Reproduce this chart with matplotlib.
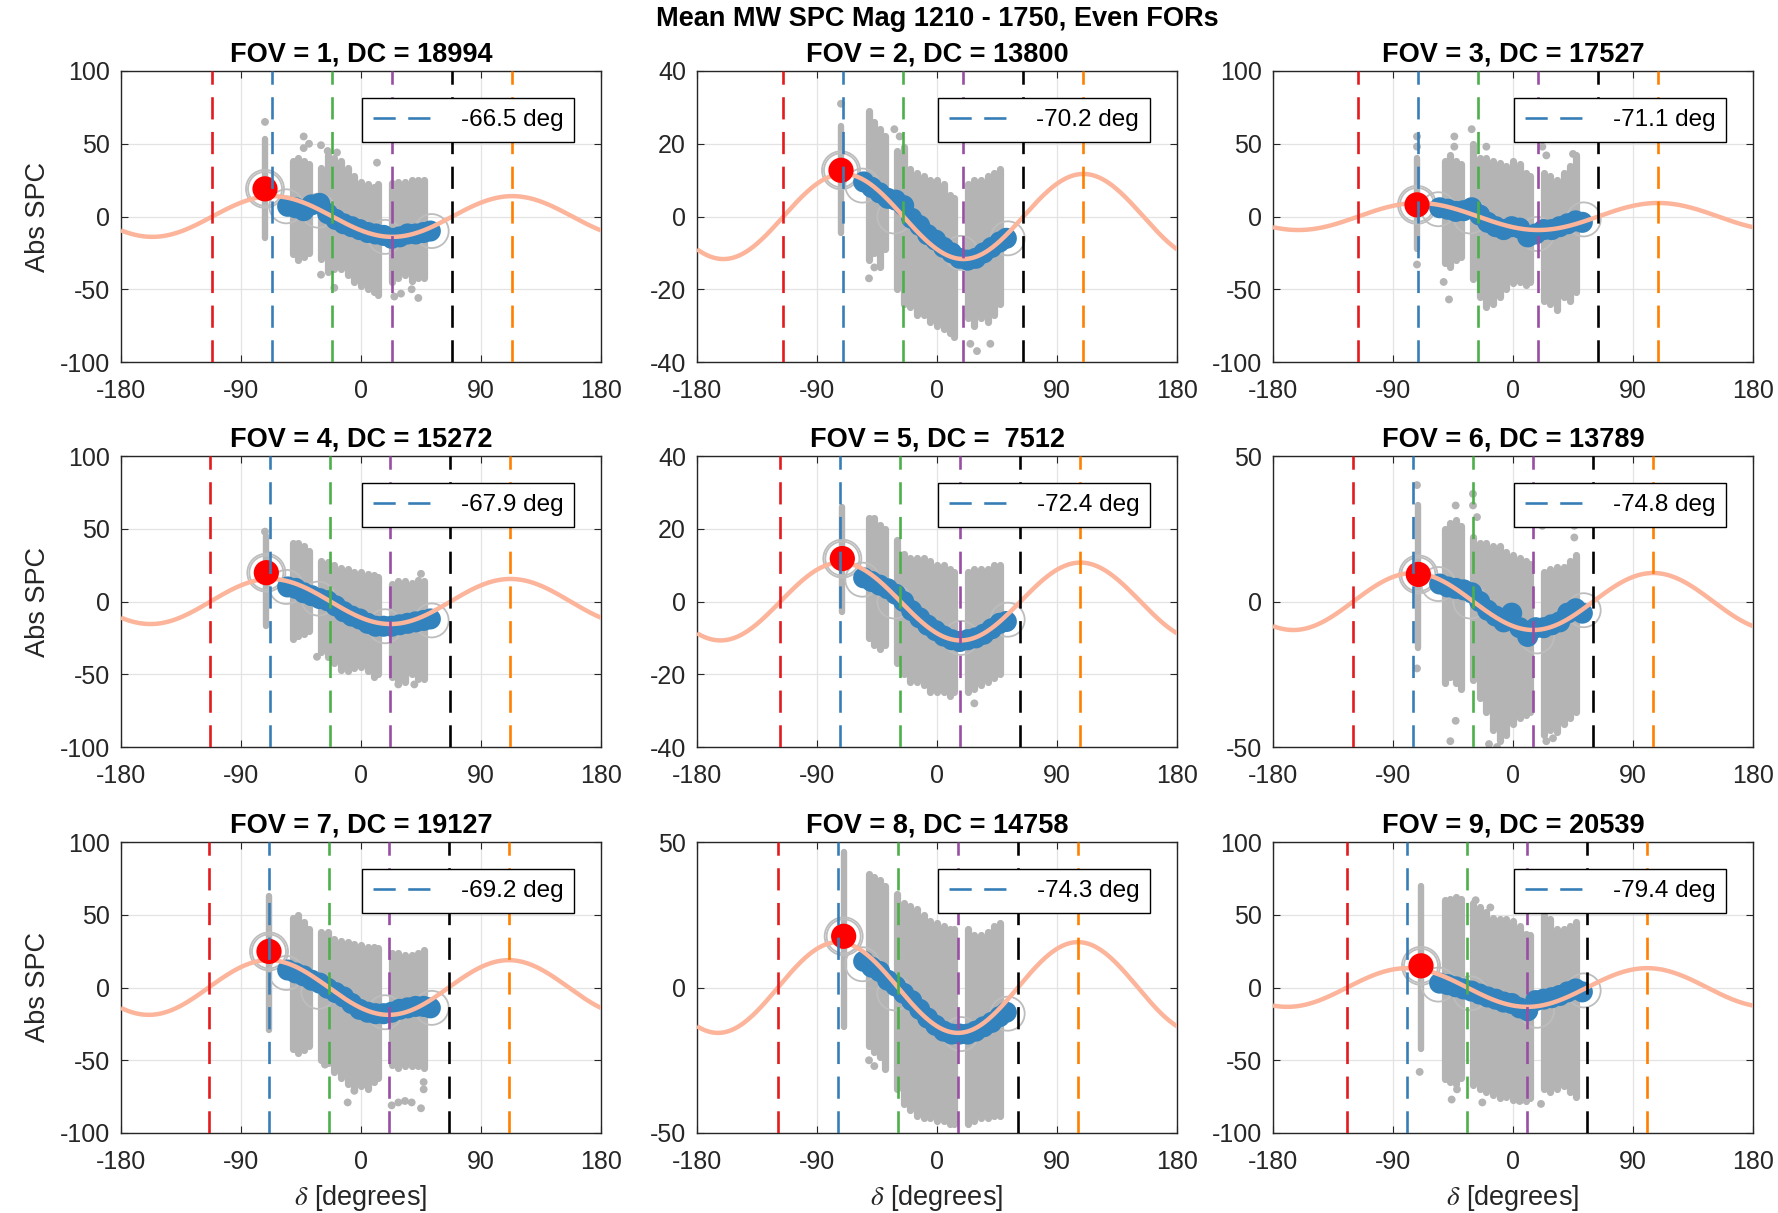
import numpy as np
import matplotlib
matplotlib.use('Agg')
import matplotlib.pyplot as plt

plt.rcParams['font.family'] = ['Liberation Sans', 'DejaVu Sans']
plt.rcParams['mathtext.fontset'] = 'stix'
plt.rcParams['lines.scale_dashes'] = False
plt.rcParams['axes.unicode_minus'] = False

# ---------------- data ----------------
suptitle_text = 'Mean MW SPC Mag 1210 - 1750, Even FORs'
fov = [1, 2, 3, 4, 5, 6, 7, 8, 9]
dc = [18994, 13800, 17527, 15272, 7512, 13789, 19127, 14758, 20539]
phase = [-66.5, -70.2, -71.1, -67.9, -72.4, -74.8, -69.2, -74.3, -79.4]   # legend values (deg)
amp = [14.0, 11.7, 9.3, 15.5, 10.7, 9.8, 18.8, 15.6, 13.3]                 # fitted sinusoid amplitude
ylim = [100, 40, 100, 100, 40, 50, 100, 50, 100]
yticks = {100: [-100, -50, 0, 50, 100], 40: [-40, -20, 0, 20, 40], 50: [-50, 0, 50]}
xticks = [-180, -90, 0, 90, 180]

line_offsets = [-45, 0, 45, 90, 135, 180]
line_colors = ['#E41A1C', '#377EB8', '#4DAF4A', '#984EA3', '#000000', '#FF7F00']

# peak point (red)
red_x = [-72, -72, -72, -71, -71, -71, -69, -70, -69]
red_y = [19.0, 12.7, 8.0, 19.8, 11.8, 9.3, 24.8, 17.6, 14.9]
# gray column at the peak position
red_col_lo = [-15, -4.5, -22, -17, -3, -16, -29, -13.5, -42]
red_col_hi = [53, 25, 40, 45, 26, 33, 63, 46.5, 70]

# gray scatter columns (x positions and vertical extent per panel)
col_x = [-51, -47, -43, -39,
         -30, -25, -20, -15, -10, -5, 0, 5, 10, 13,
         23, 28, 33, 38, 43, 47]
col_hi = [
    [38, 40, 38, 36, 33, 42, 40, 38, 33, 28, 24, 22, 20, 22, 23, 24, 24, 25, 25, 25],
    [29, 26, 24, 22, 18, 19, 13, 12, 11, 10, 10, 9, 6, 5, 9, 10, 10, 11, 12, 13],
    [38, 42, 38, 36, 50, 40, 40, 38, 37, 35, 38, 36, 30, 28, 30, 28, 25, 30, 35, 42],
    [40, 40, 38, 35, 28, 27, 25, 23, 22, 20, 20, 19, 18, 17, 12, 14, 14, 13, 15, 14],
    [23, 23, 21, 20, 17, 13, 12, 12, 12, 11, 10, 10, 9, 8, 8, 9, 9, 9, 10, 10],
    [25, 27, 28, 26, 22, 20, 20, 19, 19, 17, 16, 15, 14, 13, 10, 11, 12, 12, 14, 16],
    [48, 50, 45, 40, 38, 38, 33, 32, 31, 30, 29, 28, 28, 27, 24, 24, 22, 22, 24, 26],
    [39, 38, 37, 35, 32, 29, 28, 27, 25, 23, 22, 21, 20, 20, 20, 18, 18, 19, 21, 22],
    [60, 61, 62, 61, 58, 55, 52, 48, 47, 47, 46, 42, 37, 36, 50, 47, 40, 40, 42, 45],
]
col_lo = [
    [-26, -30, -28, -25, -29, -38, -36, -36, -40, -45, -48, -50, -52, -54, -45, -42, -40, -44, -42, -42],
    [-12, -10, -14, -9, -20, -24, -25, -27, -27, -29, -30, -31, -32, -33, -28, -30, -28, -29, -27, -24],
    [-32, -35, -30, -28, -43, -55, -62, -60, -55, -50, -46, -45, -47, -45, -58, -60, -64, -55, -58, -52],
    [-26, -24, -22, -20, -35, -38, -42, -47, -48, -46, -45, -48, -52, -50, -52, -56, -55, -50, -53, -53],
    [-10, -12, -13, -12, -17, -20, -22, -22, -23, -25, -25, -25, -26, -25, -25, -24, -23, -22, -21, -20],
    [-28, -26, -28, -30, -27, -33, -38, -44, -48, -46, -42, -40, -39, -38, -46, -44, -45, -42, -40, -38],
    [-42, -45, -43, -40, -50, -52, -58, -62, -66, -70, -68, -70, -65, -62, -53, -55, -54, -54, -54, -55],
    [-20, -22, -24, -28, -35, -40, -42, -44, -45, -45, -46, -46, -47, -47, -47, -46, -45, -45, -44, -44],
    [-63, -65, -66, -62, -67, -70, -72, -74, -76, -75, -77, -77, -78, -76, -70, -72, -70, -68, -72, -75],
]
# isolated gray points
out_x = [
    [-72, -43, -43, -39, -30, -25, -18, 12, -20, -30, 25, 30, 43, 38],
    [-72, -51, -47, -32, -28, 25, 30, 40],
    [-72, -72, -72, -44, -44, -52, -48, -31, -20, 22, 25, 45],
    [-72, -33, 45, 28, 40],
    [28],
    [-72, -72, -43, -47, -43, -30, -30, -27, -18, -12, 22, 46, 46, 25, 30],
    [-27, -10, -5, 0, 5, 23, 28, 33, 38, 45, 47, 47],
    [-51, -47],
    [-70, -46, -42, -23, 21, -28, -17, 5],
]
out_y = [
    [65, 55, 47, 50, 49, 45, 44, 37, -49, -40, -55, -53, -56, -50],
    [31, -17, -14, 24, 22, -35, -37, -35],
    [55, 48, -33, 55, 48, -45, -57, 60, 48, 48, 42, 43],
    [48, -38, 19, -57, -57],
    [-28],
    [40, -23, 33, -48, -41, 37, 33, 29, -49, -50, 26, 26, 22, -48, -47],
    [-53, -79, -71, -65, -67, -81, -79, -78, -79, -83, -65, -70],
    [-25, -27],
    [-58, -77, -70, -79, -80, 60, 55, -78],
]

# binned means (blue)
blue_x = [-55, -49, -43, -37, -31, -25, -19, -13, -7, -1, 5, 11, 17, 23, 29, 35, 41, 47, 52]
blue_y = [
    [7, 6, 4, 8, 9, 2, -2, -5, -7, -9, -11, -12, -13, -15, -14, -12, -12, -11, -10],
    [9.5, 8, 6.5, 5, 4.5, 3, -0.5, -2.5, -5, -6.5, -8.5, -10, -11.5, -12, -11.5, -10, -8.5, -7, -6],
    [6, 5, 3.5, 4, 6, 1, -4, -7, -9, -7, -8, -14, -12, -9, -9, -7, -5, -3, -4],
    [10, 9, 6, 4, 2, 0.5, -3, -7, -10, -12, -15, -17, -17, -17, -16, -15, -14, -13, -12],
    [6.5, 5.5, 4.5, 3.5, 2, 0, -2.5, -4.5, -6.5, -8, -9.5, -10.5, -11, -10.5, -10, -9, -7.5, -6, -5.5],
    [6, 5, 4.5, 4, 3, 0, -3, -5, -7, -4, -9, -12, -9, -9, -8, -7, -4, -2.5, -4],
    [12, 10, 8, 5, 3, -0.5, -3.5, -6.5, -11, -15, -17, -18, -18, -17, -15, -14, -13, -13, -14],
    [9, 7, 5.5, 2.5, 0.5, -2, -4.5, -7.5, -10.5, -13, -15, -16, -16, -16, -15, -13.5, -12, -10, -8.5],
    [3, 2, 0.5, -1, -2.5, -4.5, -6.5, -8, -10, -11, -14, -16, -9, -8, -7, -5.5, -3, -1, -3],
]

# open gray circles
circ_x = [-56, -32, 18, 53]
circ_y = [
    [7, 4, -14, -10],
    [8.5, 0, -10, -6],
    [5, 0, -12, -2],
    [10, 2, -17, -13],
    [6, 0, -10, -5],
    [6, 0, -12, -3],
    [10, -3, -17, -14],
    [8, -2, -16, -9],
    [2, -4, -16, -2],
]

# ---------------- layout ----------------
W, H = 1778, 1213
fig = plt.figure(figsize=(W / 100, H / 100), dpi=100)
lefts = [121, 697, 1273]
tops = [71, 456, 842]
aw, ah = 480, 291

gray = '#B4B4B4'
blue = '#3182BD'
salmon = '#FCB49B'
tc = '#262626'

xc = np.linspace(-180, 180, 721)

for i in range(9):
    r, c = divmod(i, 3)
    ax = fig.add_axes([lefts[c] / W, 1 - (tops[r] + ah) / H, aw / W, ah / H])
    yl = ylim[i]
    ax.set_xlim(-180, 180)
    ax.set_ylim(-yl, yl)
    ax.set_xticks(xticks)
    ax.set_yticks(yticks[yl])
    ax.set_axisbelow(True)
    ax.grid(True, color='#E3E3E3', linewidth=0.9)
    ax.tick_params(direction='in', top=True, right=True, length=5, width=0.8,
                   color=tc, labelcolor=tc, labelsize=18)
    ax.tick_params(axis='x', pad=12)
    ax.tick_params(axis='y', pad=8)
    for s in ax.spines.values():
        s.set_color(tc)
        s.set_linewidth(1.0)

    # gray data
    ax.vlines([red_x[i]], [red_col_lo[i]], [red_col_hi[i]], color=gray, linewidth=4.6,
              capstyle='round', zorder=1)
    ax.vlines(col_x, col_lo[i], col_hi[i], color=gray, linewidth=5.2,
              capstyle='round', zorder=1)
    ax.scatter(out_x[i], out_y[i], s=32, color=gray, edgecolors='none', zorder=1)

    # circles
    ax.scatter(circ_x, circ_y[i], s=600, facecolors='none', edgecolors='#BDBDBD',
               linewidths=1.3, zorder=2)
    ax.scatter([red_x[i], red_x[i]], [red_y[i], red_y[i]], s=[600, 750], facecolors='none',
               edgecolors='#BDBDBD', linewidths=1.3, zorder=2)

    # binned means
    ax.scatter(blue_x, blue_y[i], s=230, color=blue, edgecolors='none', zorder=3)

    # fitted sinusoid
    yc = amp[i] * np.cos(np.deg2rad(2 * (xc - phase[i])))
    ax.plot(xc, yc, color=salmon, linewidth=3.2, zorder=4, solid_capstyle='butt')

    # peak
    ax.scatter([red_x[i]], [red_y[i]], s=330, color='#FF0000', edgecolors='none', zorder=5)

    # vertical dashed lines
    handle = None
    for off, col in zip(line_offsets, line_colors):
        ln = ax.axvline(phase[i] + off, color=col, linewidth=1.9,
                        linestyle=(0, (16, 9)), zorder=6)
        if off == 0:
            handle = ln
    leg = ax.legend([handle], [f'{phase[i]:.1f} deg'], loc='upper right',
                    bbox_to_anchor=(0.944, 0.906), fontsize=17.5, frameon=True,
                    fancybox=False, framealpha=1, edgecolor='black',
                    handlelength=2.7, handletextpad=0.9, borderpad=0.45,
                    borderaxespad=0)
    leg.get_frame().set_linewidth(1.0)
    leg.set_zorder(10)

    ax.set_title(f'FOV = {fov[i]}, DC = {dc[i]:5d}', fontsize=19.5, fontweight='bold',
                 pad=7, color='black')
    if c == 0:
        ax.set_ylabel('Abs SPC', fontsize=19.5, color=tc, labelpad=6)
    if r == 2:
        ax.set_xlabel(r'$\delta$ [degrees]', fontsize=19.5, color=tc, labelpad=7)

fig.text(937 / W, 1 - 19 / H, suptitle_text, ha='center', va='center',
         fontsize=19.5, fontweight='bold')

fig.savefig('out.png', dpi=100)
